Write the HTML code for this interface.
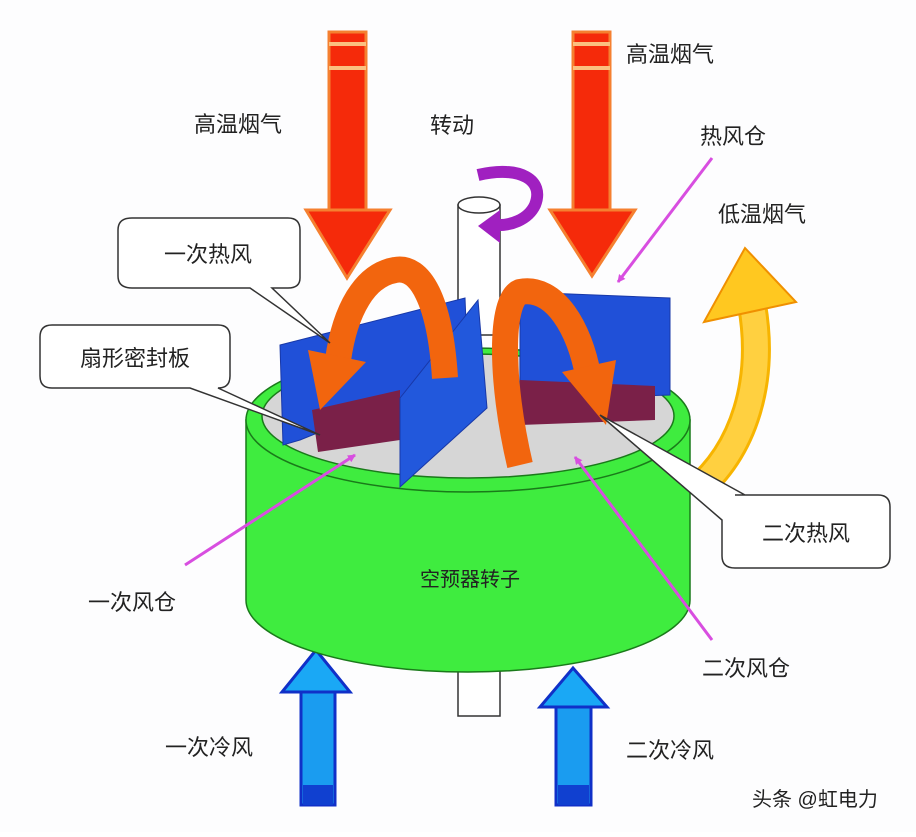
<!DOCTYPE html>
<html><head><meta charset="utf-8"><style>
html,body{margin:0;padding:0;background:#fff;}
svg text{font-family:"Liberation Sans","Noto Sans CJK SC",sans-serif;fill:#222;}
</style></head><body>
<svg width="916" height="832" viewBox="0 0 916 832" xmlns="http://www.w3.org/2000/svg">
<defs>
<marker id="mg" markerWidth="8" markerHeight="8" refX="7" refY="4" orient="auto" markerUnits="userSpaceOnUse" viewBox="0 0 8 8"><path d="M0,0 L8,4 L0,8 z" fill="#d84ee0"/></marker>
</defs>
<rect width="916" height="832" fill="#fdfdfe"/>
<g>
<rect x="329" y="32" width="37" height="180" fill="#f52a0a" stroke="#f58030" stroke-width="3"/>
<rect x="329" y="42" width="37" height="4" fill="#fbc080"/><rect x="329" y="66" width="37" height="4" fill="#fbc080"/>
<polygon points="306,210 390,210 347,278" fill="#f52a0a" stroke="#f58030" stroke-width="3"/>
<rect x="573" y="32" width="37" height="180" fill="#f52a0a" stroke="#f58030" stroke-width="3"/>
<rect x="573" y="42" width="37" height="4" fill="#fbc080"/><rect x="573" y="66" width="37" height="4" fill="#fbc080"/>
<polygon points="550,210 635,210 592,276" fill="#f52a0a" stroke="#f58030" stroke-width="3"/>
</g>
<g>
<rect x="301" y="690" width="34" height="115" fill="#1a9cf0" stroke="#1030c8" stroke-width="3"/>
<rect x="303" y="785" width="30" height="20" fill="#1040d0"/>
<polygon points="282,692 350,692 316,650" fill="#1aa8f5" stroke="#1030c8" stroke-width="3"/>
<rect x="556" y="705" width="35" height="100" fill="#1a9cf0" stroke="#1030c8" stroke-width="3"/>
<rect x="558" y="785" width="31" height="20" fill="#1040d0"/>
<polygon points="540,707 607,707 573,668" fill="#1aa8f5" stroke="#1030c8" stroke-width="3"/>
</g>
<rect x="458" y="640" width="42" height="76" fill="#fff" stroke="#333" stroke-width="1.5"/>
<path d="M246,420 L246,600 A222,72 0 0 0 690,600 L690,420 Z" fill="#3fec3f" stroke="#1a7a1a" stroke-width="1.5"/>
<ellipse cx="468" cy="420" rx="222" ry="72" fill="#3fec3f" stroke="#1a7a1a" stroke-width="1.5"/>
<ellipse cx="468" cy="416" rx="206" ry="62" fill="#d6d6d6" stroke="#1a7a1a" stroke-width="1.5"/>
<text x="470" y="586" font-size="20" text-anchor="middle" fill="#2a3a2a">空预器转子</text>
<rect x="458" y="205" width="42" height="130" fill="#fff" stroke="#333" stroke-width="1.5"/>
<ellipse cx="479" cy="205" rx="21" ry="8" fill="#fff" stroke="#333" stroke-width="1.5"/>
<polygon points="520,292 670,298 670,395 520,400" fill="#2050d8" stroke="#1838a8"/>
<polygon points="520,380 655,386 655,420 520,425" fill="#7a2048"/>
<polygon points="280,345 465,298 468,372 300,440 283,445" fill="#2050d8" stroke="#1838a8"/>
<polygon points="312,410 400,390 400,440 318,452" fill="#7a2048"/>
<polygon points="400,398 478,300 487,408 400,487" fill="#2258dc" stroke="#1838a8"/>
<path d="M445,378 C440,300 420,265 395,270 C365,275 345,310 338,360" fill="none" stroke="#f2650e" stroke-width="26"/>
<polygon points="308,350 366,362 320,410" fill="#f2650e"/>
<path d="M520,465 C500,380 500,300 520,292 C555,285 580,330 588,375" fill="none" stroke="#f2650e" stroke-width="26"/>
<polygon points="562,372 616,360 606,425" fill="#f2650e"/>
<path d="M478,175 C520,165 545,180 535,205 C528,220 510,226 495,225" fill="none" stroke="#a020c0" stroke-width="12"/>
<polygon points="500,210 500,243 478,226" fill="#a020c0"/>
<path d="M694,492 C745,450 765,380 752,305" fill="none" stroke="#f7b400" stroke-width="30"/>
<path d="M694,492 C745,450 765,380 752,305" fill="none" stroke="#ffd040" stroke-width="24"/>
<polygon points="704,322 796,302 745,248" fill="#ffc820" stroke="#f09000" stroke-width="2"/>
<line x1="712" y1="158" x2="618" y2="282" stroke="#d84ee0" stroke-width="3" marker-end="url(#mg)"/>
<line x1="185" y1="565" x2="355" y2="455" stroke="#d84ee0" stroke-width="3" marker-end="url(#mg)"/>
<line x1="712" y1="640" x2="575" y2="457" stroke="#d84ee0" stroke-width="3" marker-end="url(#mg)"/>
<path d="M132,218 H288 Q300,218 300,230 V278 Q300,288 288,288 H272 L330,343 L250,288 H132 Q118,288 118,276 V230 Q118,218 132,218 Z" fill="#fff" stroke="#333" stroke-width="1.5"/>
<text x="208" y="262" font-size="22" text-anchor="middle">一次热风</text>
<path d="M52,325 H218 Q230,325 230,337 V376 Q230,388 218,388 H218 L320,435 L190,388 H52 Q40,388 40,376 V337 Q40,325 52,325 Z" fill="#fff" stroke="#333" stroke-width="1.5"/>
<text x="135" y="366" font-size="22" text-anchor="middle">扇形密封板</text>
<path d="M735,495 H878 Q890,495 890,507 V556 Q890,568 878,568 H735 Q722,568 722,556 V520 L600,415 L745,495 Z" fill="#fff" stroke="#333" stroke-width="1.5"/>
<text x="806" y="541" font-size="22" text-anchor="middle">二次热风</text>
<text x="194" y="132" font-size="22">高温烟气</text>
<text x="626" y="62" font-size="22">高温烟气</text>
<text x="430" y="133" font-size="22">转动</text>
<text x="700" y="144" font-size="22">热风仓</text>
<text x="718" y="222" font-size="22">低温烟气</text>
<text x="88" y="610" font-size="22">一次风仓</text>
<text x="702" y="676" font-size="22">二次风仓</text>
<text x="165" y="755" font-size="22">一次冷风</text>
<text x="626" y="758" font-size="22">二次冷风</text>
<text x="752" y="806" font-size="20" fill="#333">头条 @虹电力</text>
</svg>
</body></html>
